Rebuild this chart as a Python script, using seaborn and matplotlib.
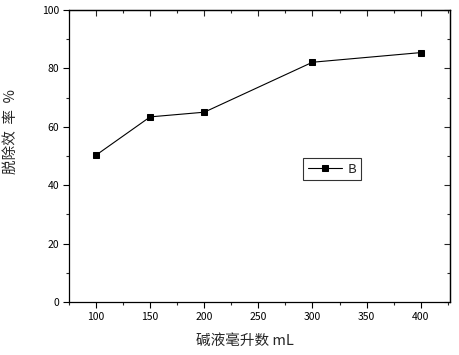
import matplotlib
matplotlib.use("Agg")
import matplotlib.pyplot as plt
import seaborn as sns
import pandas as pd
from matplotlib.ticker import MultipleLocator

volume_ml = [100, 150, 200, 300, 400]
removal_pct = [50.3, 63.4, 65.0, 82.1, 85.4]
series_name = "B"

sns.set_theme(style="white")
plt.rcParams['font.family'] = ['Noto Sans CJK SC', 'DejaVu Sans']

df = pd.DataFrame({"x": volume_ml, "y": removal_pct, "s": series_name})

fig = plt.figure(figsize=(4.6, 3.55), dpi=100)
ax = fig.add_axes([0.150, 0.149, 0.828, 0.823])
sns.lineplot(data=df, x="x", y="y", hue="s", palette=["black"], marker="s",
             markersize=5, linewidth=0.8, markeredgecolor="black", ax=ax)

ax.set_xlim(75, 427)
ax.set_ylim(0, 100)
ax.xaxis.set_major_locator(MultipleLocator(50))
ax.xaxis.set_minor_locator(MultipleLocator(25))
ax.yaxis.set_major_locator(MultipleLocator(20))
ax.yaxis.set_minor_locator(MultipleLocator(10))
ax.tick_params(which="major", direction="out", length=4, width=0.8, labelsize=7.5,
               colors="black", left=True, bottom=True, pad=3)
ax.tick_params(which="minor", direction="out", length=2.5, width=0.8, left=True, bottom=True)
for s in ax.spines.values():
    s.set_color("black")
    s.set_linewidth(0.9)

top = ax.secondary_xaxis("top")
top.xaxis.set_major_locator(MultipleLocator(50))
top.xaxis.set_minor_locator(MultipleLocator(25))
top.tick_params(which="major", direction="in", length=4, width=0.8, labeltop=False)
top.tick_params(which="minor", direction="in", length=2.5, width=0.8)
top.spines["top"].set_linewidth(0.9)
right = ax.secondary_yaxis("right")
right.yaxis.set_major_locator(MultipleLocator(20))
right.yaxis.set_minor_locator(MultipleLocator(10))
right.tick_params(which="major", direction="in", length=4, width=0.8, labelright=False)
right.tick_params(which="minor", direction="in", length=2.5, width=0.8)
right.spines["right"].set_linewidth(0.9)

ax.set_xlabel("碱液毫升数 mL", fontsize=10.5)
ax.set_ylabel("脱除效  率  %", fontsize=10.5)
ax.xaxis.label.set_va("center")
ax.yaxis.label.set_va("center")
ax.xaxis.set_label_coords((245 - 69) / 381, (302 - 341) / 292)
ax.yaxis.set_label_coords((11 - 69) / 381, (302 - 131) / 292)

leg = ax.legend(loc="center left", bbox_to_anchor=((303 - 69) / 381, (302 - 169) / 292),
                frameon=True, fancybox=False, edgecolor="black", fontsize=9.5,
                handlelength=2.6, borderpad=0.35, handletextpad=0.45, borderaxespad=0)
leg.get_frame().set_linewidth(0.8)

fig.savefig("out.png", dpi=100)
